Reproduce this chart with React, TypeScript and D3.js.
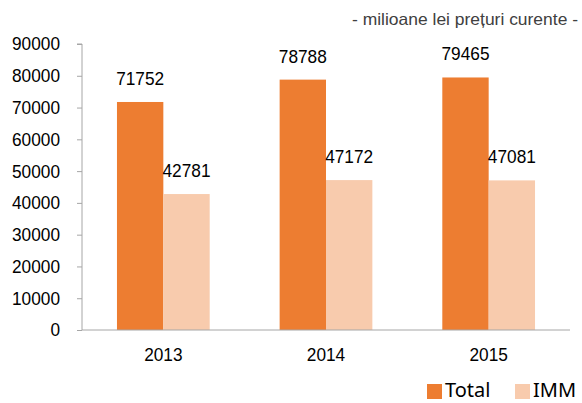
import React, { useRef, useEffect } from 'react';
import * as d3 from 'd3';

const years = ['2013', '2014', '2015'];
const totalValues = [71752, 78788, 79465];
const immValues = [42781, 47172, 47081];
const seriesNames = ['Total', 'IMM'];
const yTicks = [0, 10000, 20000, 30000, 40000, 50000, 60000, 70000, 80000, 90000];

// digits in the source are a bit narrow, squeeze them to this width per char
const DIGIT_W = 9.6;

function App() {
    const ref = useRef<SVGSVGElement>(null);

    useEffect(() => {
        const node = ref.current;
        if (!node) return;
        node.querySelectorAll('*').forEach(n => n.remove());
        const svg = d3.select(node);

        const left = 82, right = 570, top = 44, bottom = 330;
        const colors = ['#ed7d31', '#f8cbad'];
        const numFont = '"Liberation Sans", Arial, sans-serif';

        const x = d3.scaleBand<string>()
            .domain(years)
            .range([left, right])
            .paddingInner(0.43)
            .paddingOuter(0.215);
        const xs = d3.scaleBand<string>()
            .domain(seriesNames)
            .range([0, x.bandwidth()]);
        const y = d3.scaleLinear().domain([0, 90000]).range([bottom, top]);

        const rows = years.map((yr, i) => ({ year: yr, vals: [totalValues[i], immValues[i]] }));

        // bars
        const g = svg.selectAll('g.grp').data(rows).enter().append('g')
            .attr('transform', d => `translate(${x(d.year)},0)`);
        g.selectAll('rect')
            .data(d => d.vals.map((v, k) => ({ v, k })))
            .enter().append('rect')
            .attr('x', d => xs(seriesNames[d.k])!)
            .attr('width', xs.bandwidth())
            .attr('y', d => y(d.v))
            .attr('height', d => bottom - y(d.v))
            .attr('fill', d => colors[d.k]);
        g.selectAll('text')
            .data(d => d.vals.map((v, k) => ({ v, k })))
            .enter().append('text')
            .attr('x', d => xs(seriesNames[d.k])! + xs.bandwidth() / 2)
            .attr('y', d => y(d.v) - 17)
            .attr('text-anchor', 'middle')
            .attr('textLength', d => String(d.v).length * DIGIT_W)
            .attr('lengthAdjust', 'spacingAndGlyphs')
            .style('font-family', numFont)
            .style('font-size', '18.5px')
            .attr('fill', '#000')
            .text(d => String(d.v));

        // y axis
        const yAxis = d3.axisLeft(y).tickValues(yTicks).tickSize(5).tickPadding(17)
            .tickFormat(d => String(d));
        const ya = svg.append('g').attr('transform', `translate(${left},0)`).call(yAxis);
        ya.select('.domain').attr('stroke', '#a6a6a6').attr('d', `M-5,${top}H0V${bottom}`);
        ya.selectAll('.tick line').attr('stroke', '#a6a6a6');
        ya.selectAll<SVGTextElement, number>('.tick text')
            .attr('textLength', d => String(d).length * DIGIT_W)
            .attr('lengthAdjust', 'spacingAndGlyphs')
            .style('font-family', numFont).style('font-size', '18.5px').attr('fill', '#000');

        // x axis
        const xAxis = d3.axisBottom(x).tickSize(0).tickPadding(18);
        const xa = svg.append('g').attr('transform', `translate(0,${bottom})`).call(xAxis);
        xa.select('.domain').attr('stroke', '#a6a6a6').attr('d', `M${left},0H${right}`);
        xa.selectAll<SVGTextElement, string>('.tick text')
            .attr('textLength', d => d.length * DIGIT_W)
            .attr('lengthAdjust', 'spacingAndGlyphs')
            .style('font-family', numFont).style('font-size', '18.5px').attr('fill', '#000');

        // unit note
        svg.append('text')
            .attr('x', 578).attr('y', 25)
            .attr('text-anchor', 'end')
            .attr('textLength', 226)
            .attr('lengthAdjust', 'spacingAndGlyphs')
            .style('font-family', numFont).style('font-size', '16.5px')
            .attr('fill', '#404040')
            .text('- milioane lei prețuri curente -');

        // legend
        const legX = [427, 515];
        seriesNames.forEach((s, k) => {
            svg.append('rect').attr('x', legX[k]).attr('y', 384).attr('width', 15).attr('height', 15)
                .attr('fill', colors[k]);
            svg.append('text').attr('x', legX[k] + 18).attr('y', 397)
                .style('font-family', '"Noto Sans", sans-serif').style('font-size', '20px')
                .attr('fill', '#000').text(s);
        });
    }, []);

    return (
        <svg width="582" height="403" ref={ref} style={{ position: 'absolute', left: 0, top: 0 }}></svg>
    );
}

export default App;
